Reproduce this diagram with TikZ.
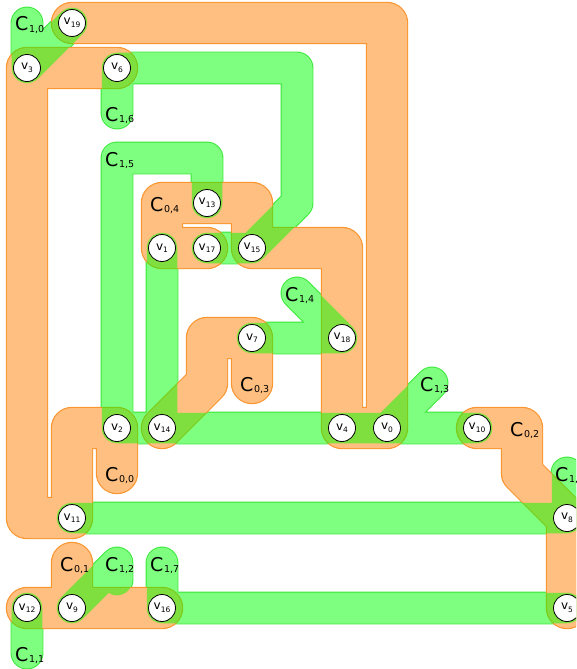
\documentclass[tikz,border=0pt]{standalone}
\usepackage{fontspec}
\setmainfont{DejaVu Sans}
\definecolor{ofill}{RGB}{255,191,128}
\definecolor{gfill}{RGB}{0,255,0}
\definecolor{oline}{RGB}{250,150,50}
\definecolor{gline}{RGB}{60,235,60}
\newcommand\orangeroutes[1]{%
  \draw[#1] (cC00) -- (cv2) -- (1,9) -- (cv11) -- (0,11) -- (cv3) -- (cv6)
     (cC01) -- (cv9) (cv12) -- (cv16)
     (cv10) -- (cC02) -- (11,10) -- (cv8) -- (cv5)
     (cC03) -- (cv7) -- (4,7) -- (4,8) -- (cv14)
     (cv19) -- (8,0) -- (cv0) -- (cv4) -- (7,5) -- (cv15) -- (5,4) -- (cC04) -- (cv1) -- (cv17);}
\newcommand\greenroutes[1]{%
  \draw[#1] (cC10) -- (cv3) -- (cv19)
     (cC11) -- (cv12)
     (2,12.38) -- (cC12) -- (cv9)
     (cC13) -- (cv0) (cv2) -- (cv10)
     (cC14) -- (cv18) -- (cv7)
     (cv1) -- (cv14) (cv13) -- (4,3) -- (cC15) -- (cv2)
     (cC16) -- (cv6) -- (6,1) -- (6,4) -- (cv15) -- (cv17)
     (cC17) -- (cv16) -- (cv5)
     (cC18) -- (cv8) -- (cv11);}
\newcommand\elabel[3]{\node[elab] (L#1) at (#2) {{\fontsize{19}{19}\selectfont C}\kern0.6pt\raisebox{-1.5pt}{\fontsize{9.5}{9.5}\selectfont #3}};}
\newcommand\vtxnode[1]{\node[vtx] (v#1) at (cv#1) {\fontsize{12}{12}\selectfont v\raisebox{-2.5pt}{\fontsize{7.5}{7.5}\selectfont #1}};}
\begin{document}
\begin{tikzpicture}[x=45pt,y=-45pt,
  vtx/.style={circle,draw=black,fill=white,line width=0.8pt,minimum size=27pt,inner sep=0pt},
  elab/.style={anchor=base west,inner sep=0pt,xshift=-12pt,yshift=-8pt},
  band/.style={line cap=round,line join=round}]
\useasboundingbox (-0.6,-0.51111) rectangle (12.2,14.35556);
\clip (-0.6,-0.51111) rectangle (12.2,14.35556);
% vertex positions
\coordinate (cv0) at (8,9);
\coordinate (cv1) at (3,5);
\coordinate (cv2) at (2,9);
\coordinate (cv3) at (0,1);
\coordinate (cv4) at (7,9);
\coordinate (cv5) at (12,13);
\coordinate (cv6) at (2,1);
\coordinate (cv7) at (5,7);
\coordinate (cv8) at (12,11);
\coordinate (cv9) at (1,13);
\coordinate (cv10) at (10,9);
\coordinate (cv11) at (1,11);
\coordinate (cv12) at (0,13);
\coordinate (cv13) at (4,4);
\coordinate (cv14) at (3,9);
\coordinate (cv15) at (5,5);
\coordinate (cv16) at (3,13);
\coordinate (cv17) at (4,5);
\coordinate (cv18) at (7,7);
\coordinate (cv19) at (1,0);
% label positions
\coordinate (cC00) at (2,10);
\coordinate (cC01) at (1,12);
\coordinate (cC02) at (11,9);
\coordinate (cC03) at (5,8);
\coordinate (cC04) at (3,4);
\coordinate (cC10) at (0,0);
\coordinate (cC11) at (0,14);
\coordinate (cC12) at (2,12);
\coordinate (cC13) at (9,8);
\coordinate (cC14) at (6,6);
\coordinate (cC15) at (2,3);
\coordinate (cC16) at (2,2);
\coordinate (cC17) at (3,12);
\coordinate (cC18) at (12,10);
% green outline, emptied inside
\greenroutes{band, gline, line width=32.9pt}
\greenroutes{band, white, line width=30.5pt}
% orange bands with outline
\orangeroutes{band, oline, line width=42.4pt}
\orangeroutes{band, ofill, line width=40pt}
% green bands, half transparent
\greenroutes{band, gfill, draw opacity=0.5, line width=30.5pt}
% hyperedge labels
\elabel{00}{cC00}{0,0}
\elabel{01}{cC01}{0,1}
\elabel{02}{cC02}{0,2}
\elabel{03}{cC03}{0,3}
\elabel{04}{cC04}{0,4}
\elabel{10}{cC10}{1,0}
\elabel{11}{cC11}{1,1}
\elabel{12}{cC12}{1,2}
\elabel{13}{cC13}{1,3}
\elabel{14}{cC14}{1,4}
\elabel{15}{cC15}{1,5}
\elabel{16}{cC16}{1,6}
\elabel{17}{cC17}{1,7}
\elabel{18}{cC18}{1,8}
% vertices
\vtxnode{0}\vtxnode{1}\vtxnode{2}\vtxnode{3}\vtxnode{4}
\vtxnode{5}\vtxnode{6}\vtxnode{7}\vtxnode{8}\vtxnode{9}
\vtxnode{10}\vtxnode{11}\vtxnode{12}\vtxnode{13}\vtxnode{14}
\vtxnode{15}\vtxnode{16}\vtxnode{17}\vtxnode{18}\vtxnode{19}
\end{tikzpicture}
\end{document}
